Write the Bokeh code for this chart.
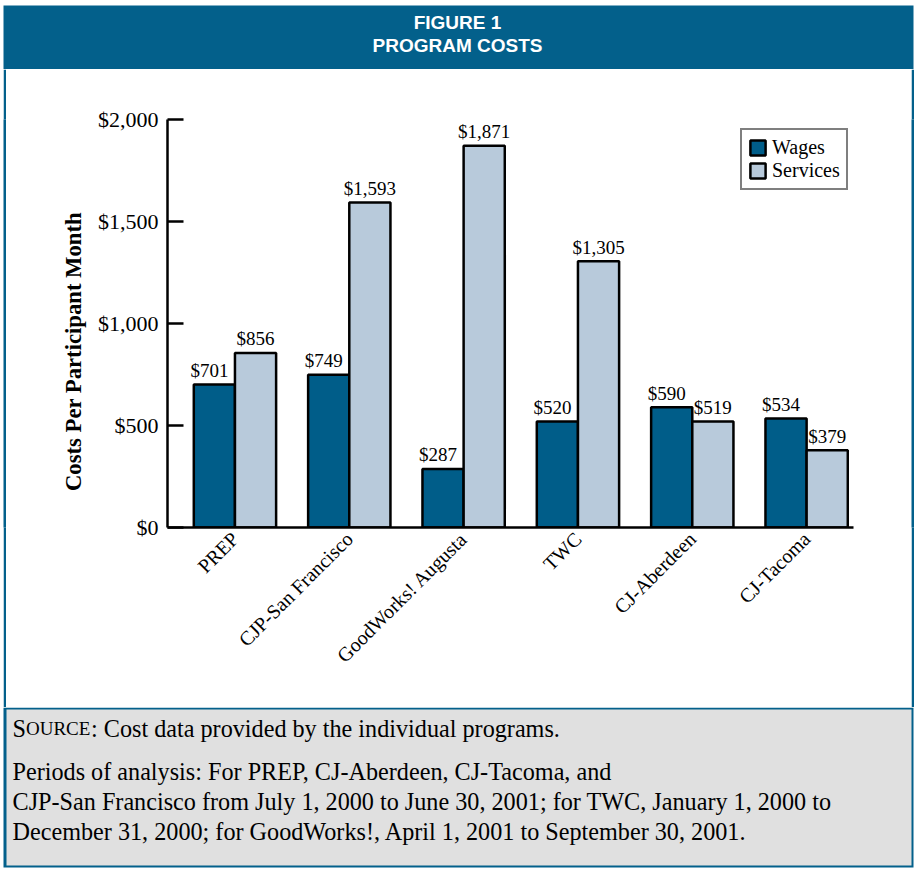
import math
import numpy as np
from bokeh.plotting import figure
from bokeh.models import Range1d, FixedTicker, Legend, LegendItem, ColumnDataSource
from bokeh.layouts import column, row
from bokeh.embed import file_html
from bokeh.resources import INLINE
from bokeh.core.properties import value

# ---------------- data ----------------
categories = ["PREP", "CJP-San Francisco", "GoodWorks! Augusta", "TWC", "CJ-Aberdeen", "CJ-Tacoma"]
wages = [701, 749, 287, 520, 590, 534]
services = [856, 1593, 1871, 1305, 519, 379]
series_names = ["Wages", "Services"]
y_ticks = [0, 500, 1000, 1500, 2000]
y_tick_labels = ["$0", "$500", "$1,000", "$1,500", "$2,000"]
title_lines = ["FIGURE 1", "PROGRAM COSTS"]
y_title = "Costs Per Participant Month"
source_rest = ": Cost data provided by the individual programs."
note_lines = [
    "Periods of analysis: For PREP, CJ-Aberdeen, CJ-Tacoma, and",
    "CJP-San Francisco from July 1, 2000 to June 30, 2001; for TWC, January 1, 2000 to",
    "December 31, 2000; for GoodWorks!, April 1, 2001 to September 30, 2001.",
]

# ---------------- styles ----------------
BLUE = "#03608B"
WAGE = "#005D89"
SERV = "#B8CADB"
GREY = "#E0E0E0"
SERIF = "Liberation Serif"
SANS = "Liberation Sans"


def blank(width, height, x0=0, y0=0, color="white", **kw):
    f = figure(width=width, height=height, x_range=Range1d(x0, x0 + width),
               y_range=Range1d(y0 + height, y0), x_axis_type=None, y_axis_type=None,
               min_border=0, output_backend="svg", toolbar_location=None, **kw)
    f.outline_line_color = None
    f.grid.visible = False
    f.background_fill_color = color
    f.border_fill_color = color
    return f


# ---------------- header ----------------
head = blank(914, 69)
head.quad(left=3, right=913, top=5, bottom=69, fill_color=BLUE, line_color=None)
head.text(x=[457, 457], y=[22, 45], text=title_lines, text_font=value(SANS), text_font_style="bold",
          text_font_size="19px", text_color="white", text_align="center", text_baseline="middle")

# ---------------- side strips ----------------
MID_H = 638
white_l = blank(3, MID_H)
blue_l = blank(3, MID_H, color=BLUE)
blue_r = blank(3, MID_H, color=BLUE)

# y-axis title panel (page x 6..90, frame aligned to the chart's frame 119..527)
tfig = figure(width=84, height=MID_H, x_range=Range1d(6, 90), y_range=Range1d(527, 119),
              x_axis_type=None, y_axis_type=None, output_backend="svg", toolbar_location=None,
              min_border_left=0, min_border_right=0, min_border_top=50, min_border_bottom=180)
tfig.outline_line_color = None
tfig.grid.visible = False
tfig.background_fill_color = "white"
tfig.border_fill_color = "white"
tfig.text(x=[73], y=[351], text=[y_title], angle=math.pi / 2, text_font=value(SERIF),
          text_font_style="bold", text_font_size="22.7px", text_align="center",
          text_baseline="middle", text_color="black")

# ---------------- main chart ----------------
n = len(categories)
p = figure(width=821, height=MID_H, x_range=Range1d(-0.09, n - 0.09), y_range=Range1d(0, 2000),
           output_backend="svg", toolbar_location=None,
           min_border_left=77, min_border_right=58, min_border_top=50, min_border_bottom=180)
p.outline_line_color = None
p.grid.visible = False
p.background_fill_color = "white"
p.border_fill_color = "white"

xc = np.arange(n) + 0.5
bw = 0.36
src = ColumnDataSource(dict(
    xw=xc - bw / 2, xs=xc + bw / 2, wages=wages, services=services,
    wl=[f"${v:,}" for v in wages], sl=[f"${v:,}" for v in services]))

r1 = p.vbar(x="xw", top="wages", width=bw, source=src, fill_color=WAGE, line_color="black", line_width=2.5)
r2 = p.vbar(x="xs", top="services", width=bw, source=src, fill_color=SERV, line_color="black", line_width=2.5)

p.text(x="xw", y="wages", text="wl", source=src, text_font=value(SERIF), text_font_size="19px",
       text_align="center", text_baseline="alphabetic", x_offset=-5, y_offset=-14, text_color="black")
p.text(x="xs", y="services", text="sl", source=src, text_font=value(SERIF), text_font_size="19px",
       text_align="center", text_baseline="alphabetic", y_offset=-14, text_color="black")

# x axis
p.xaxis.ticker = FixedTicker(ticks=list(map(float, xc)))
p.xaxis.major_label_overrides = {float(x): c for x, c in zip(xc, categories)}
p.xaxis.major_label_orientation = math.pi / 4
p.xaxis.major_tick_line_color = None
p.xaxis.minor_tick_line_color = None
p.xaxis.axis_line_width = 2.5
p.xaxis.axis_line_color = "black"
p.xaxis.major_label_text_font = SERIF
p.xaxis.major_label_text_font_size = "20px"
p.xaxis.major_label_text_color = "black"
p.xaxis.major_label_standoff = 2

# y axis
p.yaxis.ticker = FixedTicker(ticks=y_ticks)
p.yaxis.major_label_overrides = {t: l for t, l in zip(y_ticks, y_tick_labels)}
p.yaxis.major_tick_in = 16
p.yaxis.major_tick_out = 0
p.yaxis.major_tick_line_width = 2.5
p.yaxis.major_tick_line_color = "black"
p.yaxis.minor_tick_line_color = None
p.yaxis.axis_line_width = 2.5
p.yaxis.axis_line_color = "black"
p.yaxis.major_label_text_font = SERIF
p.yaxis.major_label_text_font_size = "22px"
p.yaxis.major_label_text_color = "black"
p.yaxis.major_label_standoff = 9

legend = Legend(items=[LegendItem(label=series_names[0], renderers=[r1]),
                       LegendItem(label=series_names[1], renderers=[r2])],
                location=(573, 337), orientation="vertical")
legend.label_text_font = SERIF
legend.label_text_font_size = "20px"
legend.label_text_color = "black"
legend.glyph_width = 19
legend.glyph_height = 19
legend.label_height = 19
legend.label_standoff = 5
legend.spacing = 0
legend.padding = 6
legend.margin = 0
legend.border_line_color = "black"
legend.border_line_width = 2
legend.background_fill_color = "white"
legend.background_fill_alpha = 1
p.add_layout(legend)

# ---------------- footer ----------------
foot = blank(914, 162)
foot.quad(left=3, right=913, top=0, bottom=160, fill_color=BLUE, line_color=None)
foot.quad(left=6, right=911, top=2, bottom=158, fill_color=GREY, line_color=None)
FS = "24.2px"
foot.text(x=[12], y=[21], text=["S"], text_font=value(SERIF), text_font_size=FS,
          text_baseline="alphabetic", text_color="black")
foot.text(x=[25.5], y=[21], text=["OURCE"], text_font=value(SERIF), text_font_size="19px",
          text_baseline="alphabetic", text_color="black")
foot.text(x=[90.5], y=[21], text=[source_rest], text_font=value(SERIF), text_font_size=FS,
          text_baseline="alphabetic", text_color="black")
foot.text(x=[12, 12, 12], y=[64, 94, 124], text=note_lines, text_font=value(SERIF),
          text_font_size=FS, text_baseline="alphabetic", text_color="black")

layout = column(head, row(white_l, blue_l, tfig, p, blue_r), foot)
open("out.html", "w").write(file_html(layout, INLINE))
